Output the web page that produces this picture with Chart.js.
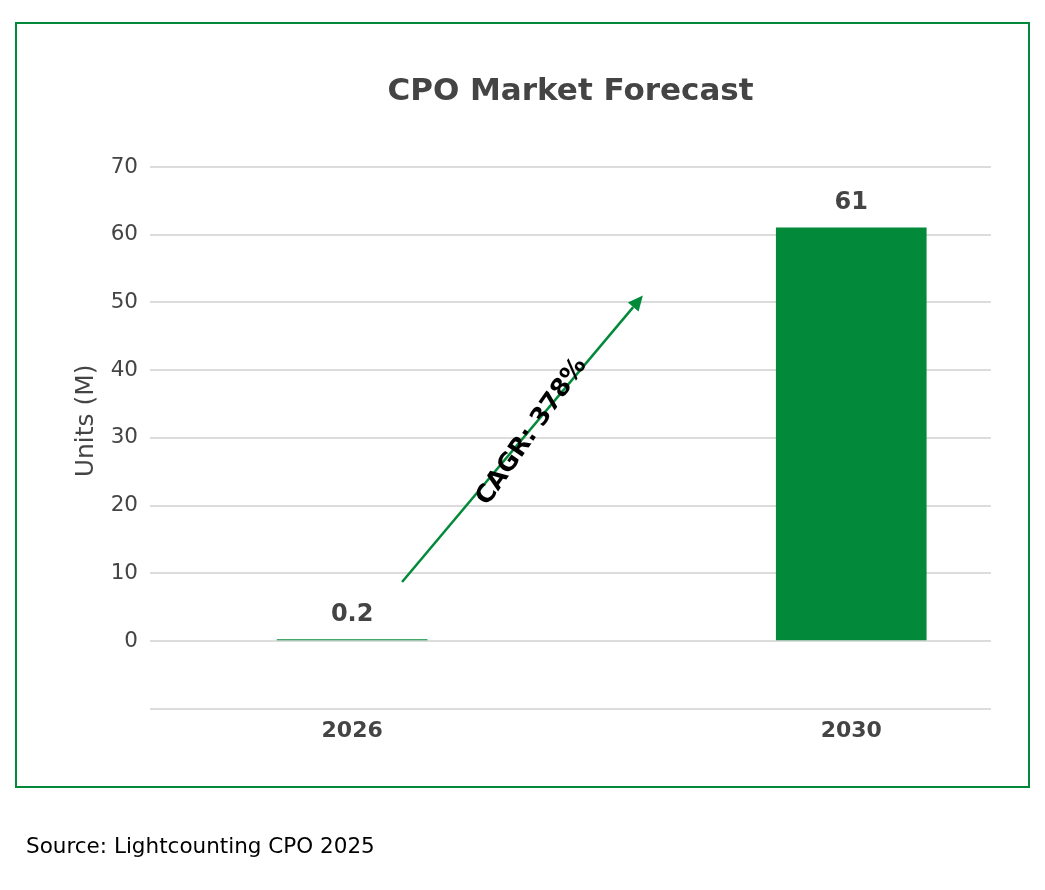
<!DOCTYPE html>
<html>
<head>
<meta charset="utf-8">
<script src="https://cdn.jsdelivr.net/npm/chart.js@4"></script>
<style>
  html, body { margin: 0; padding: 0; background: #ffffff; }
  #wrap { position: relative; width: 1045px; height: 890px; }
  #frame { position: absolute; left: 15px; top: 22px; width: 1011px; height: 762px; border: 2px solid #028A3A; pointer-events: none; }
  #source { position: absolute; left: 26px; top: 833px; font-family: "DejaVu Sans", sans-serif; font-size: 21.5px; color: #000; white-space: nowrap; }
  canvas { position: absolute; left: 0; top: 0; }
</style>
</head>
<body>
<div id="wrap">
  <canvas id="c" width="1045" height="890"></canvas>
  <div id="frame"></div>
  <div id="source">Source: Lightcounting CPO 2025</div>
</div>
<script>
// ---- data ----
const years = [2026, 2030];
const units = [0.2, 61];
const valueLabels = ['0.2', '61'];
const yRange = [-10, 75];
const yTickValues = [-10, 0, 10, 20, 30, 40, 50, 60, 70];
const xRange = [2024.38, 2031.12];
const arrowFrom = [2026.4, 8.7];
const arrowTo = [2028.33, 51];
const cagrText = 'CAGR: 378%';
const cagrAt = [2027.44, 30.9];

const GREEN = '#028A3A';
const GRAY = '#444444';
const FONT = '"DejaVu Sans", sans-serif';

const annotate = {
  id: 'annotate',
  afterDatasetsDraw(chart) {
    const ctx = chart.ctx;
    const xs = chart.scales.x, ys = chart.scales.y;
    const meta = chart.getDatasetMeta(0);
    ctx.save();
    ctx.font = 'bold 24px ' + FONT;
    ctx.fillStyle = GRAY;
    ctx.textAlign = 'center';
    ctx.textBaseline = 'alphabetic';
    meta.data.forEach((bar, i) => {
      ctx.fillText(valueLabels[i], bar.x, bar.y - 19);
    });
    // arrow
    const x1 = xs.getPixelForValue(arrowFrom[0]), y1 = ys.getPixelForValue(arrowFrom[1]);
    const x2 = xs.getPixelForValue(arrowTo[0]), y2 = ys.getPixelForValue(arrowTo[1]);
    const ang = Math.atan2(y2 - y1, x2 - x1);
    const head = 15, hw = 7;
    ctx.strokeStyle = GREEN;
    ctx.fillStyle = GREEN;
    ctx.lineWidth = 2.5;
    ctx.beginPath();
    ctx.moveTo(x1, y1);
    ctx.lineTo(x2 - head * Math.cos(ang), y2 - head * Math.sin(ang));
    ctx.stroke();
    ctx.beginPath();
    ctx.moveTo(x2, y2);
    ctx.lineTo(x2 - head * Math.cos(ang) + hw * Math.sin(ang), y2 - head * Math.sin(ang) - hw * Math.cos(ang));
    ctx.lineTo(x2 - head * Math.cos(ang) - hw * Math.sin(ang), y2 - head * Math.sin(ang) + hw * Math.cos(ang));
    ctx.closePath();
    ctx.fill();
    // CAGR text
    const tx = xs.getPixelForValue(cagrAt[0]), ty = ys.getPixelForValue(cagrAt[1]);
    ctx.translate(tx, ty);
    ctx.rotate(-55 * Math.PI / 180);
    ctx.font = 'bold 25px ' + FONT;
    ctx.fillStyle = '#000000';
    ctx.textAlign = 'center';
    ctx.textBaseline = 'middle';
    ctx.fillText(cagrText, 0, 0);
    ctx.restore();
  }
};

new Chart(document.getElementById('c'), {
  type: 'bar',
  data: {
    datasets: [{
      data: years.map((y, i) => ({ x: y, y: units[i] })),
      backgroundColor: GREEN,
      borderWidth: 0,
      barThickness: 150
    }]
  },
  options: {
    responsive: false,
    animation: false,
    layout: { padding: { top: 40, left: 60, right: 54, bottom: 121.3 } },
    plugins: {
      legend: { display: false },
      tooltip: { enabled: false },
      title: {
        display: true,
        fullSize: false,
        text: 'CPO Market Forecast',
        color: GRAY,
        font: { family: FONT, size: 31, weight: 'bold', lineHeight: 1.2 },
        padding: { top: 33.4, bottom: 22.5 }
      }
    },
    scales: {
      x: {
        type: 'linear',
        min: xRange[0],
        max: xRange[1],
        offset: false,
        grid: { display: false, drawTicks: false },
        border: { display: false },
        afterBuildTicks: (s) => { s.ticks = years.map(v => ({ value: v })); },
        afterFit: (s) => { s.height = 60; },
        ticks: {
          color: GRAY,
          padding: 9,
          font: { family: FONT, size: 22, weight: 'bold' },
          callback: (v) => String(v)
        }
      },
      y: {
        min: yRange[0],
        max: yRange[1],
        afterFit: (s) => { s.width = 90; },
        afterBuildTicks: (s) => { s.ticks = yTickValues.map(v => ({ value: v })); },
        grid: { color: '#dcdcdc', lineWidth: 2, drawTicks: false },
        border: { display: false },
        ticks: {
          color: GRAY,
          padding: 12,
          font: { family: FONT, size: 21.5 },
          callback: (v) => (v < 0 ? '' : String(v))
        },
        title: {
          display: true,
          text: 'Units (M)',
          color: GRAY,
          font: { family: FONT, size: 25 },
          padding: { top: 11, bottom: 0 }
        }
      }
    }
  },
  plugins: [annotate]
});
</script>
</body>
</html>
